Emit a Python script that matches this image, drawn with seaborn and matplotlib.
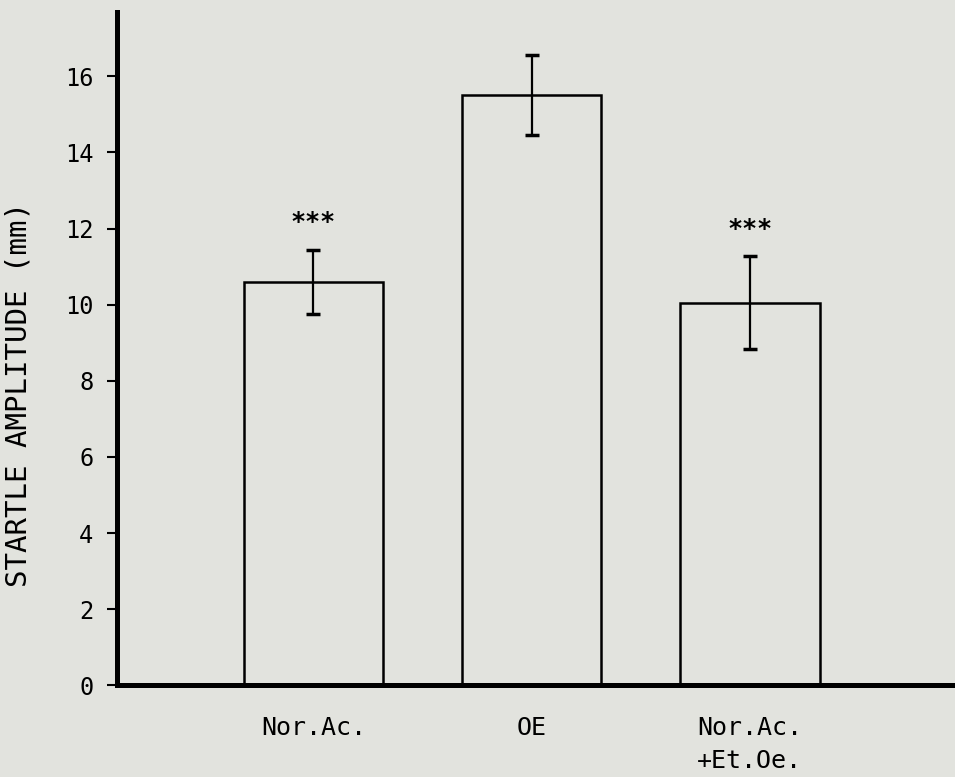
import matplotlib
matplotlib.use("Agg")
import matplotlib.pyplot as plt
import seaborn as sns
import pandas as pd

# valores
grupos = ["Nor.Ac.", "OE", "Nor.Ac.\n+Et.Oe."]
medias = [10.6, 15.5, 10.05]
errores = [0.85, 1.05, 1.22]
marcas = ["***", "", "***"]

papel = "#e2e3de"

sns.set_theme(style="ticks")
plt.rcParams["font.family"] = ["DejaVu Sans Mono", "DejaVu Sans"]
plt.rcParams.update({"text.color": "black", "axes.labelcolor": "black",
                     "xtick.color": "black", "ytick.color": "black",
                     "axes.edgecolor": "black"})

df = pd.DataFrame({"grupo": grupos, "amplitud": medias})

fig = plt.figure(figsize=(9.55, 7.77), dpi=100, facecolor=papel)
ax = fig.add_axes([0.1225, 0.118, 0.8775, 0.867])
ax.set_facecolor(papel)

sns.barplot(data=df, x="grupo", y="amplitud", color=papel, edgecolor="black",
            linewidth=1.8, width=0.64, saturation=1, ax=ax)

ax.errorbar(range(len(grupos)), medias, yerr=errores, fmt="none",
            ecolor="black", elinewidth=1.6, capsize=5, capthick=2.5)

for i, (m, e, s) in enumerate(zip(medias, errores, marcas)):
    if s:
        ax.text(i, m + e + 0.4, s, ha="center", va="bottom",
                fontsize=18, fontweight="bold")

ax.set_xlim(-0.9, 2.94)
ax.set_ylim(0, 17.7)
ax.set_yticks(range(0, 17, 2))
ax.tick_params(axis="y", length=7, width=1.5, pad=10, labelsize=17)
ax.tick_params(axis="x", length=0, pad=22, labelsize=18)
for lab in ax.get_xticklabels():
    lab.set_linespacing(1.5)

sns.despine(ax=ax)
ax.spines["left"].set_linewidth(3.6)
ax.spines["bottom"].set_linewidth(3.6)

ax.set_xlabel("")
ax.set_ylabel("STARTLE AMPLITUDE (mm)", fontsize=21)
ax.yaxis.set_label_coords(-0.101, 0.431)

fig.savefig("out.png", dpi=100, facecolor=papel)
